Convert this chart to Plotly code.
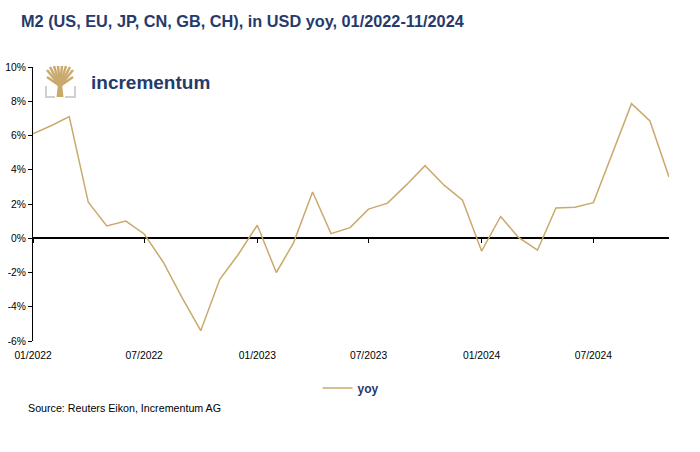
import plotly.graph_objects as go
import pandas as pd

months = pd.date_range("2022-01-01", "2024-11-01", freq="MS")
yoy = [6.1, 6.6, 7.1, 2.1, 0.72, 1.0, 0.25, -1.4, -3.5, -5.4, -2.4, -0.95,
       0.76, -2.0, -0.27, 2.7, 0.27, 0.62, 1.7, 2.05, 3.13, 4.24, 3.1, 2.22,
       -0.75, 1.27, 0.05, -0.7, 1.77, 1.81, 2.08, 5.0, 7.86, 6.85, 3.58]

x_tickvals = ["2022-01-01", "2022-07-01", "2023-01-01", "2023-07-01", "2024-01-01", "2024-07-01"]
x_ticktext = ["01/2022", "07/2022", "01/2023", "07/2023", "01/2024", "07/2024"]
y_tickvals = [10, 8, 6, 4, 2, 0, -2, -4, -6]
y_ticktext = ["10%", "8%", "6%", "4%", "2%", "0%", "-2%", "-4%", "-6%"]

NAVY = "#263a6b"
GOLD = "#c9aa6c"
FONT = "Liberation Sans, Arial, sans-serif"

# plot area in pixels
L, R, T, B = 33, 669, 67, 341
def px(x):
    return (x - L) / (R - L)
def py(y):
    return (B - y) / (B - T)

fig = go.Figure()
fig.add_trace(go.Scatter(x=months, y=yoy, mode="lines", name="yoy",
                         line=dict(color=GOLD, width=1.5)))
# helper trace for the tick axis at zero
fig.add_trace(go.Scatter(x=months, y=yoy, mode="lines", xaxis="x2", yaxis="y",
                         line=dict(color="rgba(0,0,0,0)", width=0),
                         showlegend=False, hoverinfo="skip"))

xr = [months[0], months[-1]]
fig.update_layout(
    width=700, height=452,
    margin=dict(l=L, r=700 - R, t=T, b=452 - B, autoexpand=False),
    paper_bgcolor="white", plot_bgcolor="white",
    font=dict(family=FONT, size=10, color="black"),
    title=dict(text="<b>M2 (US, EU, JP, CN, GB, CH), in USD yoy, 01/2022-11/2024</b>",
               x=21 / 700, xref="container", xanchor="left",
               y=1 - 21 / 452, yref="container", yanchor="middle",
               font=dict(family=FONT, size=16.3, color=NAVY)),
    xaxis=dict(range=xr, tickvals=x_tickvals, ticktext=x_ticktext, automargin=False,
               showgrid=False, zeroline=False, showline=False, ticks="",
               ticklabelstandoff=7,
               tickfont=dict(size=10.3, color="black")),
    xaxis2=dict(range=xr, overlaying="x", anchor="free", position=6 / 16,
                tickvals=x_tickvals, showticklabels=False, showgrid=False,
                zeroline=False, showline=False, ticks="outside", ticklen=4,
                tickcolor="black", tickwidth=1),
    yaxis=dict(range=[-6, 10], tickvals=y_tickvals, ticktext=y_ticktext, automargin=False,
               showgrid=False, zeroline=True, zerolinecolor="black", zerolinewidth=1.5,
               showline=True, linecolor="black", linewidth=1,
               ticks="outside", ticklen=4, tickcolor="black",
               tickfont=dict(size=10.3, color="black")),
    legend=dict(orientation="h", x=0.5, xanchor="center", y=py(388), yanchor="middle",
                font=dict(family=FONT, size=12, color=NAVY, weight="bold"),
                bgcolor="rgba(0,0,0,0)"),
    showlegend=True,
)

fig.add_annotation(text="Source: Reuters Eikon, Incrementum AG", xref="paper", yref="paper",
                   x=px(26), y=py(408), xanchor="left", yanchor="middle", showarrow=False,
                   font=dict(family=FONT, size=10.7, color="black"))
fig.add_annotation(text="<b>incrementum</b>", xref="paper", yref="paper",
                   x=px(89), y=py(82), xanchor="left", yanchor="middle", showarrow=False,
                   font=dict(family=FONT, size=19, color=NAVY))

# logo icon (decoration)
def P(x, y):
    return f"{px(x)},{py(y)}"
for (bx, by) in [(47, 77), (47, 70), (50, 67), (54, 66), (58, 66), (62, 66), (66, 66), (70, 67), (73, 70), (73, 77)]:
    fig.add_shape(type="line", xref="paper", yref="paper",
                  x0=px(60), y0=py(86), x1=px(bx), y1=py(by),
                  line=dict(color=GOLD, width=2.5))
fig.add_shape(type="path", xref="paper", yref="paper",
              path=f"M{P(58,84)} L{P(62,84)} L{P(63.5,97)} L{P(56.5,97)} Z",
              fillcolor=GOLD, line=dict(width=0))
fig.add_shape(type="path", xref="paper", yref="paper",
              path=f"M{P(46,86)} L{P(46,97)} L{P(55,97)} M{P(65,97)} L{P(75,97)} L{P(75,86)}",
              line=dict(color="#d0d0d0", width=2))

fig.write_html("out.html", config={"displayModeBar": False},
               post_script="document.body.style.margin='0';")
